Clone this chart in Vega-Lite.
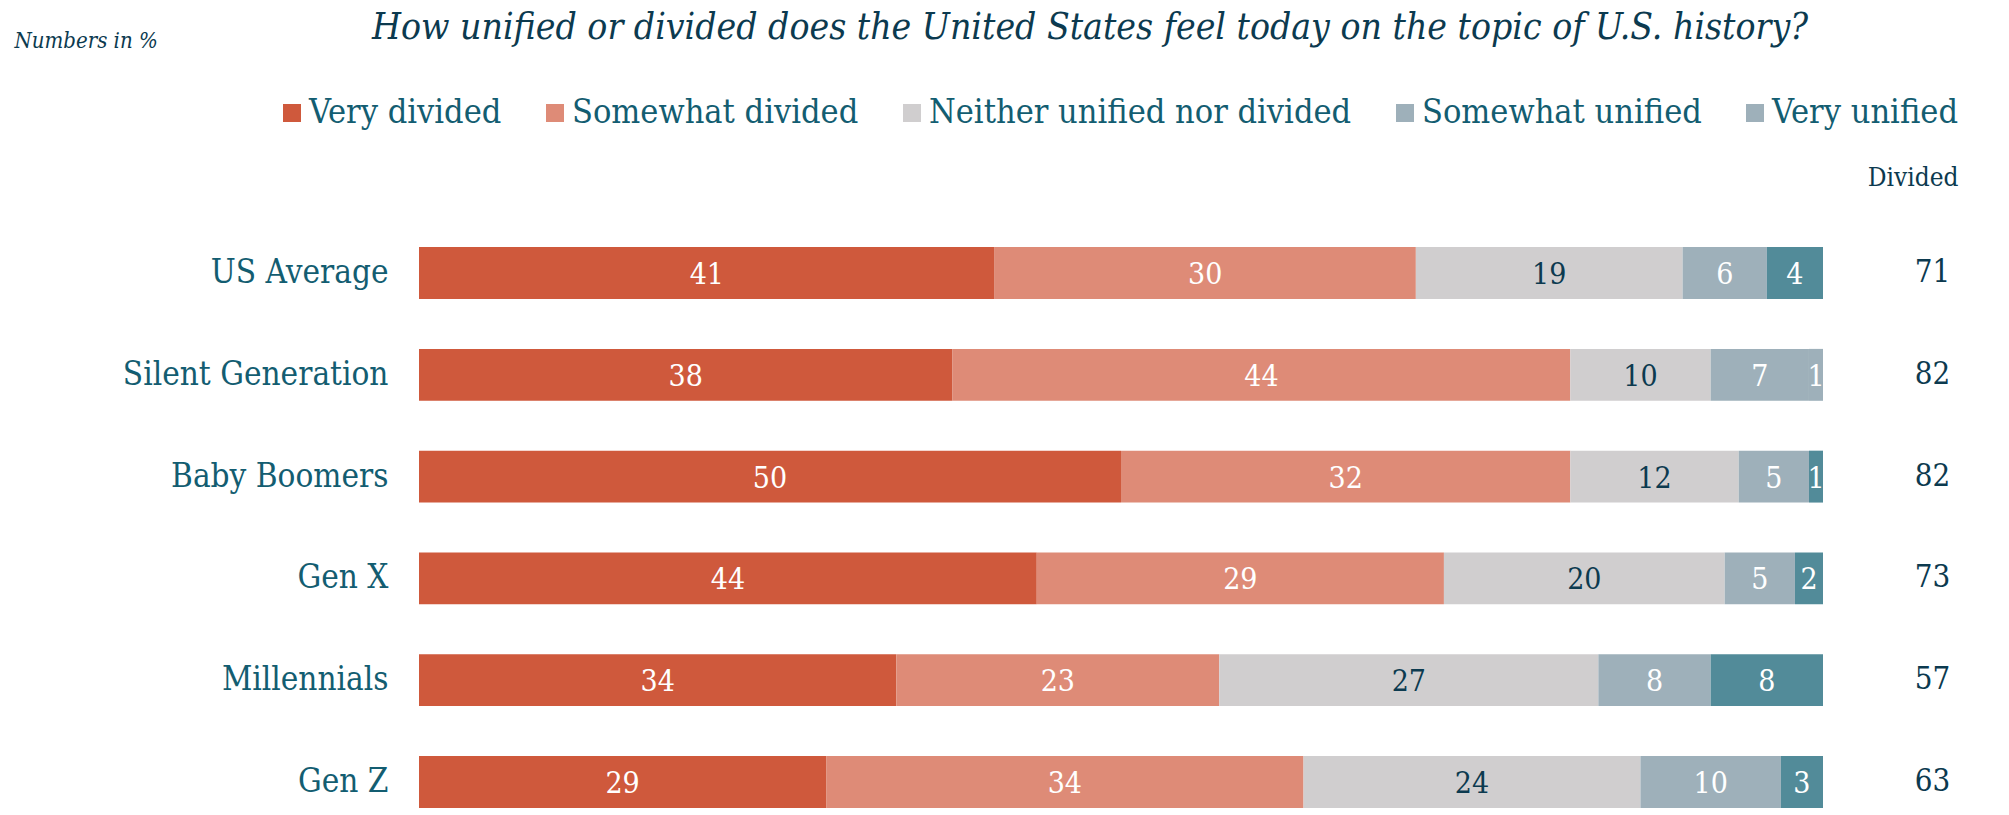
{
  "$schema": "https://vega.github.io/schema/vega-lite/v6.json",
  "width": 1404,
  "height": 575,
  "autosize": {"type": "none"},
  "padding": {"left": 419, "top": 240, "right": 186, "bottom": 0},
  "background": "white",
  "title": {
    "text": "How unified or divided does the United States feel today on the topic of U.S. history?",
    "anchor": "middle",
    "frame": "group",
    "dx": -31,
    "font": "DejaVu Serif Condensed",
    "fontStyle": "italic",
    "fontWeight": "normal",
    "fontSize": 37,
    "color": "#0c3a4f",
    "offset": -18
  },
  "datasets": {
    "shares": [
      {"group": "US Average", "category": "Very divided", "value": 41},
      {"group": "US Average", "category": "Somewhat divided", "value": 30},
      {"group": "US Average", "category": "Neither unified nor divided", "value": 19},
      {"group": "US Average", "category": "Somewhat unified", "value": 6},
      {"group": "US Average", "category": "Very unified", "value": 4},
      {"group": "Silent Generation", "category": "Very divided", "value": 38},
      {"group": "Silent Generation", "category": "Somewhat divided", "value": 44},
      {"group": "Silent Generation", "category": "Neither unified nor divided", "value": 10},
      {"group": "Silent Generation", "category": "Somewhat unified", "value": 7},
      {"group": "Silent Generation", "category": "Very unified", "value": 1},
      {"group": "Baby Boomers", "category": "Very divided", "value": 50},
      {"group": "Baby Boomers", "category": "Somewhat divided", "value": 32},
      {"group": "Baby Boomers", "category": "Neither unified nor divided", "value": 12},
      {"group": "Baby Boomers", "category": "Somewhat unified", "value": 5},
      {"group": "Baby Boomers", "category": "Very unified", "value": 1},
      {"group": "Gen X", "category": "Very divided", "value": 44},
      {"group": "Gen X", "category": "Somewhat divided", "value": 29},
      {"group": "Gen X", "category": "Neither unified nor divided", "value": 20},
      {"group": "Gen X", "category": "Somewhat unified", "value": 5},
      {"group": "Gen X", "category": "Very unified", "value": 2},
      {"group": "Millennials", "category": "Very divided", "value": 34},
      {"group": "Millennials", "category": "Somewhat divided", "value": 23},
      {"group": "Millennials", "category": "Neither unified nor divided", "value": 27},
      {"group": "Millennials", "category": "Somewhat unified", "value": 8},
      {"group": "Millennials", "category": "Very unified", "value": 8},
      {"group": "Gen Z", "category": "Very divided", "value": 29},
      {"group": "Gen Z", "category": "Somewhat divided", "value": 34},
      {"group": "Gen Z", "category": "Neither unified nor divided", "value": 24},
      {"group": "Gen Z", "category": "Somewhat unified", "value": 10},
      {"group": "Gen Z", "category": "Very unified", "value": 3}
    ],
    "divided": [
      {"group": "US Average", "divided": 71},
      {"group": "Silent Generation", "divided": 82},
      {"group": "Baby Boomers", "divided": 82},
      {"group": "Gen X", "divided": 73},
      {"group": "Millennials", "divided": 57},
      {"group": "Gen Z", "divided": 63}
    ]
  },
  "encoding": {
    "y": {
      "field": "group",
      "type": "nominal",
      "sort": ["US Average", "Silent Generation", "Baby Boomers", "Gen X", "Millennials", "Gen Z"],
      "scale": {"paddingInner": 0.49, "paddingOuter": 0.07},
      "axis": {
        "title": "Numbers in %",
        "titleAngle": 0,
        "titleX": -405,
        "titleY": -200,
        "titleAlign": "left",
        "titleBaseline": "middle",
        "titleFont": "DejaVu Serif Condensed",
        "titleFontStyle": "italic",
        "titleFontWeight": "normal",
        "titleFontSize": 22,
        "titleColor": "#0c3a4f",
        "labelFont": "DejaVu Serif Condensed",
        "labelFontSize": 33,
        "labelColor": "#135d71",
        "labelPadding": 31,
        "labelLimit": 0,
        "ticks": false,
        "domain": false,
        "grid": false
      }
    }
  },
  "layer": [
    {
      "data": {"name": "shares"},
      "transform": [
        {"calculate": "indexof(['Very divided','Somewhat divided','Neither unified nor divided','Somewhat unified','Very unified'], datum.category)", "as": "k"},
        {"stack": "value", "groupby": ["group"], "sort": [{"field": "k", "order": "ascending"}], "as": ["x0", "x1"]},
        {"calculate": "(datum.x0 + datum.x1) / 2", "as": "mid"}
      ],
      "layer": [
        {
          "mark": {"type": "bar"},
          "encoding": {
            "x": {
              "field": "x0",
              "type": "quantitative",
              "scale": {"domain": [0, 100], "nice": false, "zero": true},
              "axis": {
                "orient": "top",
                "title": "Divided",
                "titleX": 1539,
                "titleY": -63,
                "titleAlign": "right",
                "titleBaseline": "middle",
                "titleFont": "DejaVu Serif Condensed",
                "titleFontWeight": "normal",
                "titleFontSize": 26,
                "titleColor": "#0c3a4f",
                "labels": false,
                "ticks": false,
                "domain": false,
                "grid": false
              }
            },
            "x2": {"field": "x1"},
            "color": {
              "field": "category",
              "type": "nominal",
              "condition": {"test": "datum.category === 'Very unified' && datum.group !== 'Silent Generation'", "value": "#528b99"},
              "scale": {
                "domain": ["Very divided", "Somewhat divided", "Neither unified nor divided", "Somewhat unified", "Very unified"],
                "range": ["#cf593c", "#de8b77", "#d0cecf", "#9eb0ba", "#9eb0ba"]
              },
              "legend": {
                "title": null,
                "orient": "none",
                "direction": "horizontal",
                "legendX": -144,
                "legendY": -144,
                "symbolType": "square",
                "symbolSize": 324,
                "symbolStrokeWidth": 0,
                "labelOffset": 0,
                "columnPadding": 36,
                "labelFont": "DejaVu Serif Condensed",
                "labelFontSize": 34,
                "labelColor": "#135d71",
                "labelLimit": 0
              }
            }
          }
        },
        {
          "mark": {"type": "text", "clip": true, "font": "DejaVu Serif Condensed", "fontSize": 30, "baseline": "middle", "align": "center", "dy": 2},
          "encoding": {
            "x": {"field": "mid", "type": "quantitative"},
            "text": {"field": "value", "type": "quantitative"},
            "color": {
              "condition": {"test": "datum.category === 'Neither unified nor divided'", "value": "#0c3a4f"},
              "value": "#ffffff"
            }
          }
        }
      ]
    },
    {
      "data": {"name": "divided"},
      "mark": {"type": "text", "font": "DejaVu Serif Condensed", "fontSize": 31, "baseline": "middle", "align": "center", "color": "#0c3a4f"},
      "encoding": {
        "x": {"datum": 107.8, "type": "quantitative"},
        "text": {"field": "divided", "type": "quantitative"}
      }
    }
  ],
  "config": {
    "view": {"stroke": null}
  }
}
